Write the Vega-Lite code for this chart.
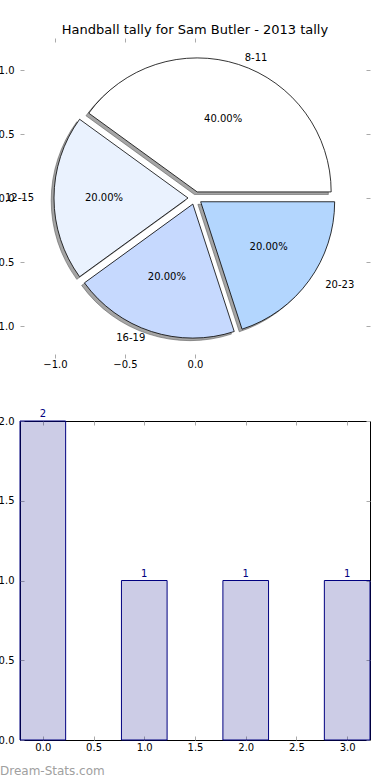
{
  "$schema": "https://vega.github.io/schema/vega-lite/v6.json",
  "autosize": {"type": "pad"},
  "padding": {"left": -11, "top": 23, "right": 0, "bottom": 0},
  "config": {
    "font": "DejaVu Sans",
    "axis": {"labelFont": "DejaVu Sans", "labelFontSize": 10, "labelColor": "black", "grid": false, "domain": false, "tickColor": "#aaaaaa", "tickSize": -4, "title": null},
    "axisX": {"labelPadding": 5},
    "axisY": {"labelPadding": 10}
  },
  "datasets": {
    "tally": [
      {"i": 0, "age": "8-11", "count": 2},
      {"i": 1, "age": "12-15", "count": 1},
      {"i": 2, "age": "16-19", "count": 1},
      {"i": 3, "age": "20-23", "count": 1}
    ]
  },
  "title": {"text": "Dream-Stats.com", "orient": "bottom", "anchor": "start", "frame": "group", "dx": -20, "fontSize": 12, "fontWeight": "normal", "color": "#a0a0a0", "offset": 13},
  "spacing": 39,
  "vconcat": [
    {
      "title": {"text": "Handball tally for Sam Butler - 2013 tally", "fontSize": 13, "fontWeight": "normal", "font": "DejaVu Sans", "color": "black", "offset": 1},
      "width": 350,
      "height": 320,
      "view": {"stroke": null},
      "data": {"name": "tally"},
      "transform": [
        {"window": [{"op": "sum", "field": "count", "as": "cum"}], "sort": [{"field": "i"}], "frame": [null, 0]},
        {"joinaggregate": [{"op": "sum", "field": "count", "as": "total"}]},
        {"calculate": "2*PI*(datum.cum-datum.count)/datum.total", "as": "a0"},
        {"calculate": "2*PI*datum.cum/datum.total", "as": "a1"},
        {"calculate": "(datum.a0+datum.a1)/2", "as": "am"},
        {"calculate": "0.05*cos(datum.am)", "as": "ex"},
        {"calculate": "0.05*sin(datum.am)", "as": "ey"},
        {"calculate": "PI/2-datum.a0", "as": "t0"},
        {"calculate": "PI/2-datum.a1", "as": "t1"},
        {"calculate": "datum.ex-0.02", "as": "sx"},
        {"calculate": "datum.ey-0.02", "as": "sy"},
        {"calculate": "datum.ex+0.6*cos(datum.am)", "as": "px"},
        {"calculate": "datum.ey+0.6*sin(datum.am)", "as": "py"},
        {"calculate": "datum.ex+1.1*cos(datum.am)", "as": "lx"},
        {"calculate": "datum.ey+1.1*sin(datum.am)", "as": "ly"},
        {"calculate": "format(100*datum.count/datum.total,'.2f')+'%'", "as": "pct"}
      ],
      "layer": [
        {
          "mark": {"type": "arc", "radius": 134, "fill": "#4c4c4c", "fillOpacity": 0.5, "stroke": "#4c4c4c", "strokeOpacity": 0.5, "strokeWidth": 1},
          "encoding": {
            "x": {"field": "sx", "type": "quantitative", "scale": {"domain": [-1.25, 1.25], "nice": false, "zero": false}, "axis": {"orient": "bottom", "values": [-1, -0.5, 0], "format": ".1f"}},
            "y": {"field": "sy", "type": "quantitative", "scale": {"domain": [-1.25, 1.25], "nice": false, "zero": false}, "axis": {"orient": "left", "values": [-1, -0.5, 0, 0.5, 1], "format": ".1f"}},
            "theta": {"field": "t0", "type": "quantitative", "scale": null, "stack": null},
            "theta2": {"field": "t1"}
          }
        },
        {
          "mark": {"type": "arc", "radius": 134, "stroke": "black", "strokeWidth": 0.8},
          "encoding": {
            "x": {"field": "ex", "type": "quantitative", "scale": {"domain": [-1.25, 1.25], "nice": false, "zero": false}, "axis": {"orient": "top", "values": [-1, -0.5, 0], "labels": false}},
            "y": {"field": "ey", "type": "quantitative", "scale": {"domain": [-1.25, 1.25], "nice": false, "zero": false}, "axis": {"orient": "right", "values": [-1, -0.5, 0, 0.5, 1], "labels": false}},
            "theta": {"field": "t0", "type": "quantitative", "scale": null, "stack": null},
            "theta2": {"field": "t1"},
            "color": {"field": "age", "type": "nominal", "scale": {"domain": ["8-11", "12-15", "16-19", "20-23"], "range": ["#ffffff", "#eaf2fe", "#c6d9fe", "#b3d6fe"]}, "legend": null}
          }
        },
        {
          "mark": {"type": "text", "fontSize": 10, "color": "black", "align": "center", "baseline": "middle"},
          "encoding": {
            "x": {"field": "px", "type": "quantitative", "axis": null},
            "y": {"field": "py", "type": "quantitative", "axis": null},
            "text": {"field": "pct"}
          }
        },
        {
          "transform": [{"filter": "datum.lx > 0"}],
          "mark": {"type": "text", "fontSize": 10, "color": "black", "align": "left", "baseline": "middle"},
          "encoding": {
            "x": {"field": "lx", "type": "quantitative", "axis": null},
            "y": {"field": "ly", "type": "quantitative", "axis": null},
            "text": {"field": "age"}
          }
        },
        {
          "transform": [{"filter": "datum.lx <= 0"}],
          "mark": {"type": "text", "fontSize": 10, "color": "black", "align": "right", "baseline": "middle"},
          "encoding": {
            "x": {"field": "lx", "type": "quantitative", "axis": null},
            "y": {"field": "ly", "type": "quantitative", "axis": null},
            "text": {"field": "age"}
          }
        }
      ],
      "resolve": {"axis": {"x": "independent", "y": "independent"}}
    },
    {
      "width": 350,
      "height": 319,
      "view": {"stroke": "black", "strokeWidth": 1},
      "data": {"name": "tally"},
      "transform": [
        {"calculate": "datum.i-0.225", "as": "b0"},
        {"calculate": "datum.i+0.225", "as": "b1"}
      ],
      "layer": [
        {
          "mark": {"type": "bar", "fill": "#000080", "fillOpacity": 0.2, "stroke": "#000080", "strokeWidth": 1},
          "encoding": {
            "x": {"field": "b0", "type": "quantitative", "scale": {"domain": [-0.225, 3.225], "nice": false, "zero": false}, "axis": {"orient": "bottom", "values": [0, 0.5, 1, 1.5, 2, 2.5, 3], "format": ".1f", "labelPadding": 6}},
            "x2": {"field": "b1"},
            "y": {"field": "count", "type": "quantitative", "scale": {"domain": [0, 2], "nice": false}, "axis": {"orient": "left", "values": [0, 0.5, 1, 1.5, 2], "format": ".1f"}},
            "y2": {"datum": 0}
          }
        },
        {
          "mark": {"type": "text", "color": "#000080", "fontSize": 10, "baseline": "bottom", "dy": -2},
          "encoding": {
            "x": {"field": "i", "type": "quantitative", "axis": {"orient": "top", "values": [0, 0.5, 1, 1.5, 2, 2.5, 3], "labels": false}},
            "y": {"field": "count", "type": "quantitative", "axis": {"orient": "right", "values": [0, 0.5, 1, 1.5, 2], "labels": false}},
            "text": {"field": "count", "type": "quantitative"}
          }
        }
      ],
      "resolve": {"axis": {"x": "independent", "y": "independent"}}
    }
  ]
}
